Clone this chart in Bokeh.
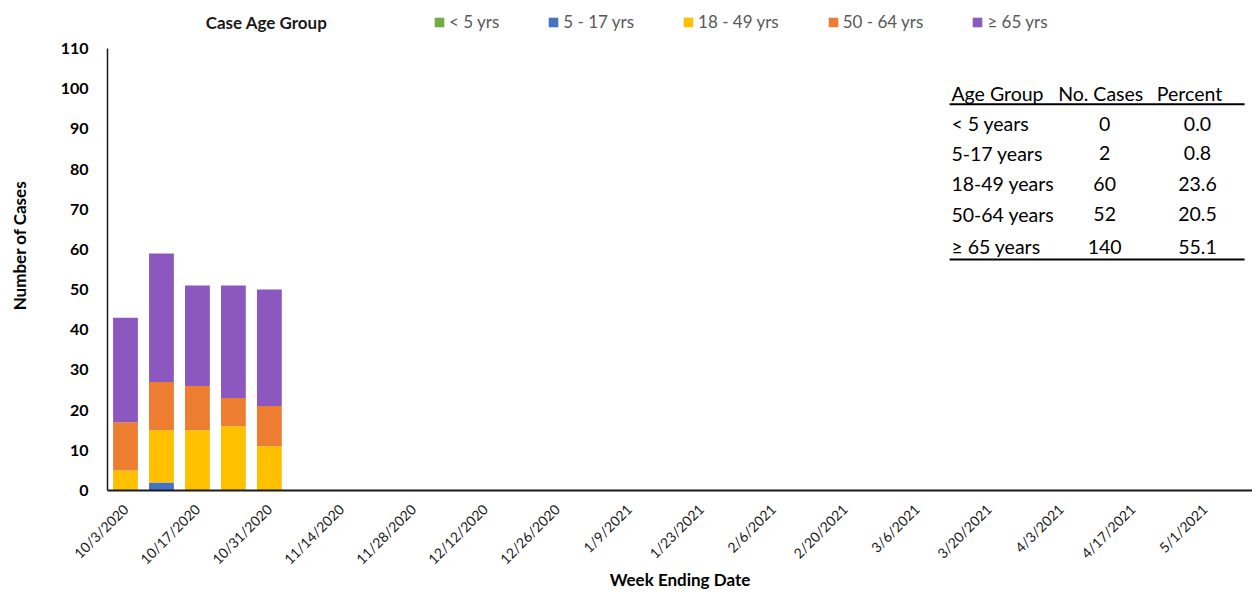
import math
from bokeh.plotting import figure
from bokeh.models import ColumnDataSource, Legend, LegendItem, Label, Range1d
from bokeh.core.properties import value
from bokeh.embed import file_html
from bokeh.resources import INLINE

# ---------------- data ----------------
weeks = ["10/3/2020", "10/10/2020", "10/17/2020", "10/24/2020", "10/31/2020",
         "11/7/2020", "11/14/2020", "11/21/2020", "11/28/2020", "12/5/2020",
         "12/12/2020", "12/19/2020", "12/26/2020", "1/2/2021", "1/9/2021",
         "1/16/2021", "1/23/2021", "1/30/2021", "2/6/2021", "2/13/2021",
         "2/20/2021", "2/27/2021", "3/6/2021", "3/13/2021", "3/20/2021",
         "3/27/2021", "4/3/2021", "4/10/2021", "4/17/2021", "4/24/2021",
         "5/1/2021", "5/8/2021"]

age_lt5   = [0, 0, 0, 0, 0, 0, 0, 0, 0, 0, 0, 0, 0, 0, 0, 0, 0, 0, 0, 0, 0, 0, 0, 0, 0, 0, 0, 0, 0, 0, 0, 0]
age_5_17  = [0, 2, 0, 0, 0, 0, 0, 0, 0, 0, 0, 0, 0, 0, 0, 0, 0, 0, 0, 0, 0, 0, 0, 0, 0, 0, 0, 0, 0, 0, 0, 0]
age_18_49 = [5, 13, 15, 16, 11, 0, 0, 0, 0, 0, 0, 0, 0, 0, 0, 0, 0, 0, 0, 0, 0, 0, 0, 0, 0, 0, 0, 0, 0, 0, 0, 0]
age_50_64 = [12, 12, 11, 7, 10, 0, 0, 0, 0, 0, 0, 0, 0, 0, 0, 0, 0, 0, 0, 0, 0, 0, 0, 0, 0, 0, 0, 0, 0, 0, 0, 0]
age_ge65  = [26, 32, 25, 28, 29, 0, 0, 0, 0, 0, 0, 0, 0, 0, 0, 0, 0, 0, 0, 0, 0, 0, 0, 0, 0, 0, 0, 0, 0, 0, 0, 0]

legend_labels = ["< 5 yrs", "5 - 17 yrs", "18 - 49 yrs", "50 - 64 yrs", "\u2265 65 yrs"]
colors = ["#70AD47", "#4472C4", "#FFC000", "#ED7D31", "#8C57BF"]

y_ticks = [0, 10, 20, 30, 40, 50, 60, 70, 80, 90, 100, 110]

table_header = ["Age Group", "No. Cases", "Percent"]
table_groups = ["< 5 years", "5-17 years", "18-49 years", "50-64 years", "\u2265 65 years"]
table_cases = [0, 2, 60, 52, 140]
table_percent = [0.0, 0.8, 23.6, 20.5, 55.1]

# ---------------- figure ----------------
FONT = "Lato"
W, H = 1252, 593
N = len(weeks)
xpos = list(range(N))
Y_MAX = 110
Y_TOP = 121.95   # headroom: legend sits inside the frame, above the axis
X_END = 31.33

p = figure(width=W, height=H, x_range=Range1d(-0.5, X_END),
           y_range=Range1d(0, Y_TOP), output_backend="svg", toolbar_location=None,
           min_border_left=107, min_border_right=0, min_border_top=0, min_border_bottom=103)
p.outline_line_color = None
p.xgrid.grid_line_color = None
p.ygrid.grid_line_color = None
p.background_fill_color = "white"
p.border_fill_color = "white"

keys = ["lt5", "a5_17", "a18_49", "a50_64", "ge65"]
src = ColumnDataSource(dict(x=xpos, lt5=age_lt5, a5_17=age_5_17,
                            a18_49=age_18_49, a50_64=age_50_64, ge65=age_ge65))
rs = p.vbar_stack(keys, x="x", width=0.69, source=src, color=colors, line_color=None)

# y axis
p.yaxis.ticker = y_ticks
p.yaxis.bounds = (0, Y_MAX)
p.yaxis.axis_label = "Number of Cases"
p.yaxis.axis_label_text_font = FONT
p.yaxis.axis_label_text_font_style = "bold"
p.yaxis.axis_label_text_font_size = "17px"
p.yaxis.axis_label_text_color = "#000000"
p.yaxis.axis_label_standoff = 28
p.yaxis.major_label_text_font = FONT
p.yaxis.major_label_text_font_style = "bold"
p.yaxis.major_label_text_font_size = "16px"
p.yaxis.major_label_text_color = "#000000"
p.yaxis.major_label_standoff = 19
p.yaxis.major_tick_line_color = None
p.yaxis.minor_tick_line_color = None
p.yaxis.major_tick_out = 0
p.yaxis.major_tick_in = 0
p.yaxis.axis_line_color = "#1a1a1a"
p.yaxis.axis_line_width = 1.5

# x axis
tick_idx = [i for i in xpos if i % 2 == 0]
p.xaxis.ticker = tick_idx
p.xaxis.major_label_overrides = {i: weeks[i] for i in tick_idx}
p.xaxis.axis_label = "Week Ending Date"
p.xaxis.axis_label_text_font = FONT
p.xaxis.axis_label_text_font_style = "bold"
p.xaxis.axis_label_text_font_size = "17px"
p.xaxis.axis_label_text_color = "#000000"
p.xaxis.axis_label_standoff = -7
p.xaxis.major_label_text_font = FONT
p.xaxis.major_label_text_font_size = "14px"
p.xaxis.major_label_text_color = "#1a1a1a"
p.xaxis.major_label_orientation = math.pi / 4
p.xaxis.major_label_standoff = 16
p.xaxis.major_tick_line_color = None
p.xaxis.minor_tick_line_color = None
p.xaxis.major_tick_out = 0
p.xaxis.major_tick_in = 0
p.xaxis.axis_line_color = "#1a1a1a"
p.xaxis.axis_line_width = 2

# legend (inside the headroom of the frame)
items = [LegendItem(label=l, renderers=[r]) for l, r in zip(legend_labels, rs)]
legend = Legend(items=items, orientation="horizontal", location=(326, 458),
                spacing=48, glyph_width=12, glyph_height=12, label_standoff=4,
                padding=0, margin=0, border_line_color=None, background_fill_alpha=0,
                label_text_font=FONT, label_text_font_size="17px",
                label_text_color="#595959")
p.add_layout(legend)

p.add_layout(Label(x=3.92, y=116.5, text="Case Age Group", text_align="center",
                   text_baseline="middle", text_font=FONT, text_font_style="bold",
                   text_font_size="17px", text_color="#1a1a1a"))

# ---------------- summary table ----------------
col_left, col_cases, col_pct = 22.96, 27.22, 29.80
head_y = 98.8
row_y = [91.3, 83.9, 76.4, 68.7, 60.7]
tfont = dict(text_font=value(FONT), text_font_size="19.5px", text_color="#000000",
             text_baseline="middle")

p.text(x=[col_left], y=[head_y], text=[table_header[0]], text_align="left", **tfont)
p.text(x=[27.11, 29.58], y=[head_y, head_y], text=table_header[1:], text_align="center", **tfont)
p.text(x=[col_left] * 5, y=row_y, text=table_groups, text_align="left", **tfont)
p.text(x=[col_cases] * 5, y=row_y, text=[str(c) for c in table_cases], text_align="center", **tfont)
p.text(x=[col_pct] * 5, y=row_y, text=["%.1f" % v for v in table_percent], text_align="center", **tfont)
p.segment(x0=[22.91, 22.91], x1=[31.11, 31.11], y0=[96.1, 57.5], y1=[96.1, 57.5],
          line_color="#000000", line_width=2)

open("out.html", "w").write(file_html(p, INLINE))
